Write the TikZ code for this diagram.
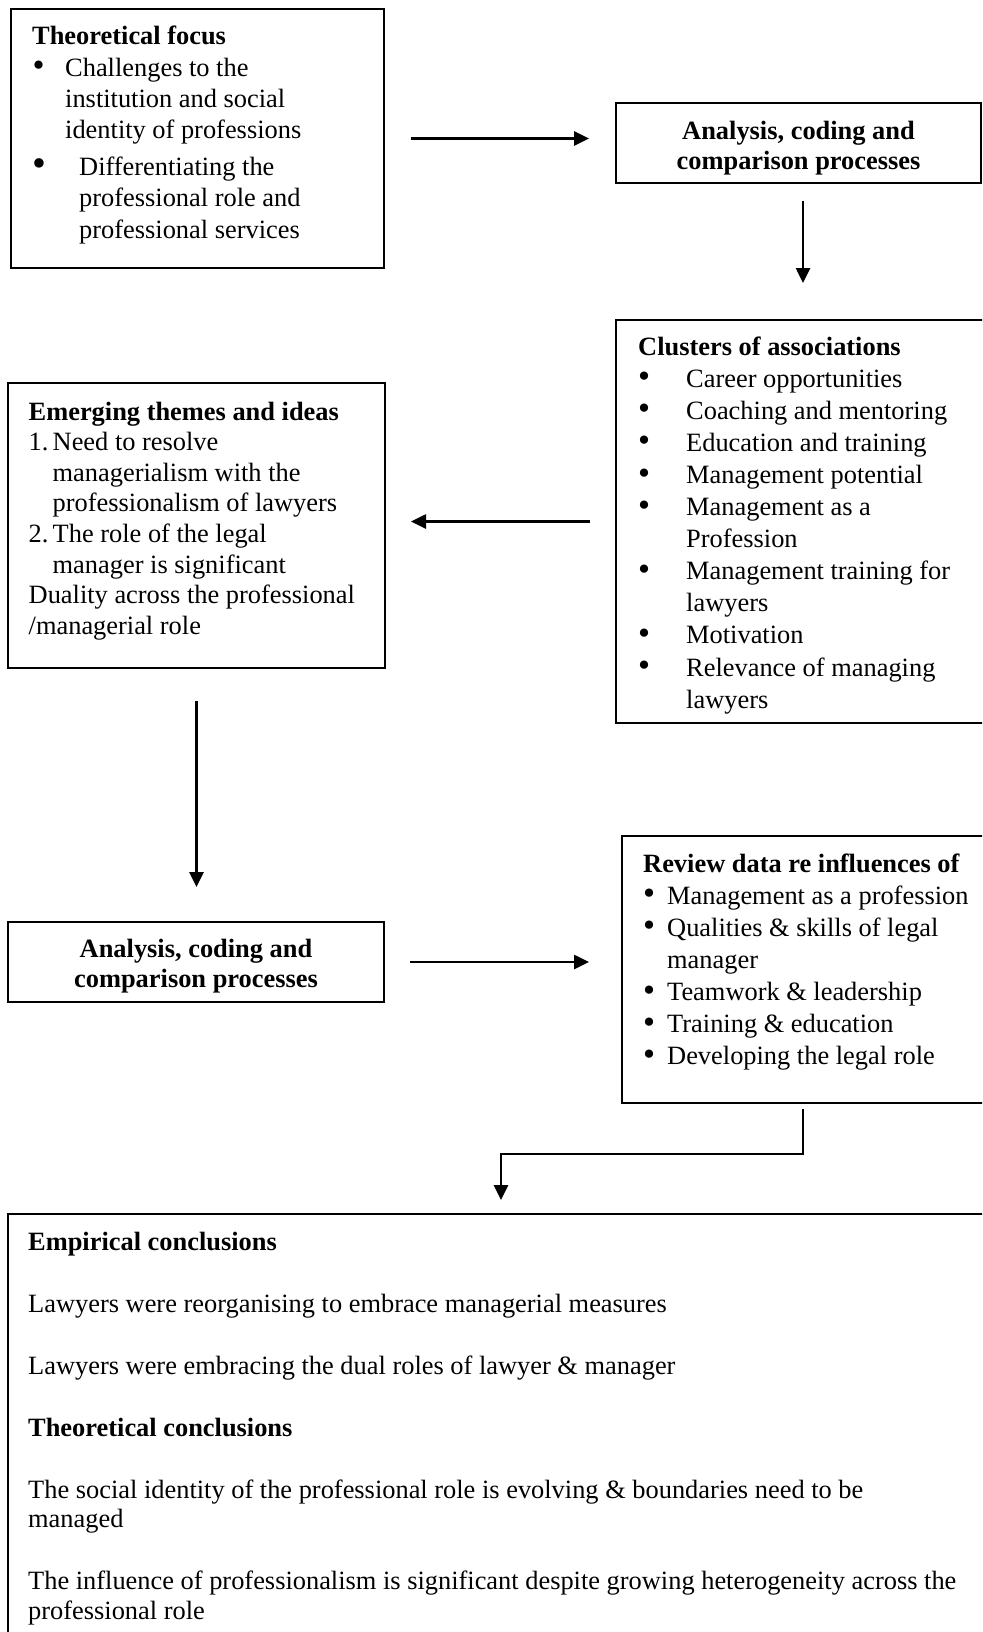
\documentclass[tikz,border=0pt]{standalone}
\usepackage{fontspec}
\setmainfont{Liberation Serif}
\usetikzlibrary{arrows.meta}

% bullet in a fixed-width slot, and a matching indent for continuation lines
\newcommand{\bigdot}{\raisebox{-0.6pt}{\scalebox{1.3}{\textbullet}}}
\newcommand{\bitem}[1]{\makebox[#1][l]{\bigdot}}
\newcommand{\numitem}[2]{\makebox[#1][l]{#2}}
\newcommand{\cont}[1]{\hspace*{#1}}

\begin{document}
\begin{tikzpicture}[x=1pt, y=-1pt,
  panel/.style={draw=black, line width=1.8pt, inner sep=0pt, outer sep=0pt, anchor=north west},
  link/.style={line width=2.6pt, -{Triangle[length=15pt,width=14pt]}},
  txt/.style={inner sep=0pt, anchor=base west},
  ctxt/.style={inner sep=0pt, anchor=base, font=\bfseries\fontsize{26.4}{30}\selectfont}]

\useasboundingbox (0,0) rectangle (982,1632);
\fill[white] (0,0) rectangle (982,1632);
\clip (0,0) rectangle (982,1632);

% ---- boxes ----
\node[panel, minimum width=373pt, minimum height=259pt] (theory)   at (11,9)    {};
\node[panel, minimum width=365pt, minimum height=80pt]  (acpTop)   at (616,103) {};
\node[panel, minimum width=369pt, minimum height=403pt] (clusters) at (616,320) {};
\node[panel, minimum width=377pt, minimum height=285pt] (themes)   at (8,383)   {};
\node[panel, minimum width=376pt, minimum height=80pt]  (acpLow)   at (8,922)   {};
\node[panel, minimum width=363pt, minimum height=267pt] (review)   at (622,836) {};
\node[panel, minimum width=977pt, minimum height=430pt] (concl)    at (8,1214)  {};

% ---- texts ----
\node[txt, font=\fontsize{26.4}{31.3}\selectfont] (theoryText) at (32,45) {%
\begin{tabular}[t]{@{}l@{}}
\textbf{Theoretical focus}\\
\cont{0.5pt}\bitem{32.5pt}Challenges to the\\
\cont{33pt}institution and social\\
\cont{33pt}identity of professions\\[5.5pt]
\makebox[47pt][l]{\raisebox{-1pt}{\scalebox{1.5}{\textbullet}}}Differentiating the\\
\cont{47pt}professional role and\\
\cont{47pt}professional services
\end{tabular}};

\node[ctxt] (acpTopText) at ([yshift=-37pt]acpTop.north) {%
\begin{tabular}[t]{@{}c@{}}Analysis, coding and\\comparison processes\end{tabular}};

\node[txt, font=\fontsize{26.4}{32.1}\selectfont] (clustersText) at (638,355) {%
\begin{tabular}[t]{@{}l@{}}
\textbf{Clusters of associations}\\
\bitem{48pt}Career opportunities\\
\bitem{48pt}Coaching and mentoring\\
\bitem{48pt}Education and training\\
\bitem{48pt}Management potential\\
\bitem{48pt}Management as a\\
\cont{48pt}Profession\\
\bitem{48pt}Management training for\\
\cont{48pt}lawyers\\
\bitem{48pt}Motivation\\
\bitem{48pt}Relevance of managing\\
\cont{48pt}lawyers
\end{tabular}};

\node[txt, font=\fontsize{26.4}{30.65}\selectfont] (themesText) at (28.5,420) {%
\begin{tabular}[t]{@{}l@{}}
\textbf{Emerging themes and ideas}\\
\numitem{24pt}{1.}Need to resolve\\
\cont{24pt}managerialism with the\\
\cont{24pt}professionalism of lawyers\\
\numitem{24pt}{2.}The role of the legal\\
\cont{24pt}manager is significant\\
Duality across the professional\\
/managerial role
\end{tabular}};

\node[ctxt] (acpLowText) at ([yshift=-35pt]acpLow.north) {%
\begin{tabular}[t]{@{}c@{}}Analysis, coding and\\comparison processes\end{tabular}};

\node[txt, font=\fontsize{26.4}{32.1}\selectfont] (reviewText) at (643,872) {%
\begin{tabular}[t]{@{}l@{}}
\textbf{Review data re influences of}\\
\bitem{24pt}Management as a profession\\
\bitem{24pt}Qualities \& skills of legal\\
\cont{24pt}manager\\
\bitem{24pt}Teamwork \& leadership\\
\bitem{24pt}Training \& education\\
\bitem{24pt}Developing the legal role
\end{tabular}};

\node[txt, font=\fontsize{26.4}{29.5}\selectfont] (conclText) at (28,1250) {%
\begin{tabular}[t]{@{}l@{}}
\textbf{Empirical conclusions}\\[32.5pt]
Lawyers were reorganising to embrace managerial measures\\[32.5pt]
Lawyers were embracing the dual roles of lawyer \& manager\\[32.5pt]
\textbf{Theoretical conclusions}\\[32.5pt]
The social identity of the professional role is evolving \& boundaries need to be\\
managed\\[32.5pt]
The influence of professionalism is significant despite growing heterogeneity across the\\
professional role
\end{tabular}};

% ---- connectors ----
\coordinate (downX) at (803,0);
\coordinate (bendR) at (803,1154);
\coordinate (bendL) at (501,1154);

\draw[link, shorten <=27pt, shorten >=27pt] (theory.east) -- (theory.east -| acpTop.west);
\draw[link, shorten <=18pt, shorten >=37pt] (acpTop.south -| downX) -- (clusters.north -| downX);
\draw[link, shorten <=26pt, shorten >=26pt] (clusters.west) -- (clusters.west -| themes.east);
\draw[link, shorten <=33pt, shorten >=35pt] (themes.south) -- (themes.south |- acpLow.north);
\draw[link, shorten <=26pt, shorten >=33pt] (acpLow.east) -- (acpLow.east -| review.west);
\draw[link, shorten <=6pt, shorten >=14pt] (review.south -| bendR) -- (bendR) -- (bendL) -- (bendL |- concl.north);

\end{tikzpicture}
\end{document}
